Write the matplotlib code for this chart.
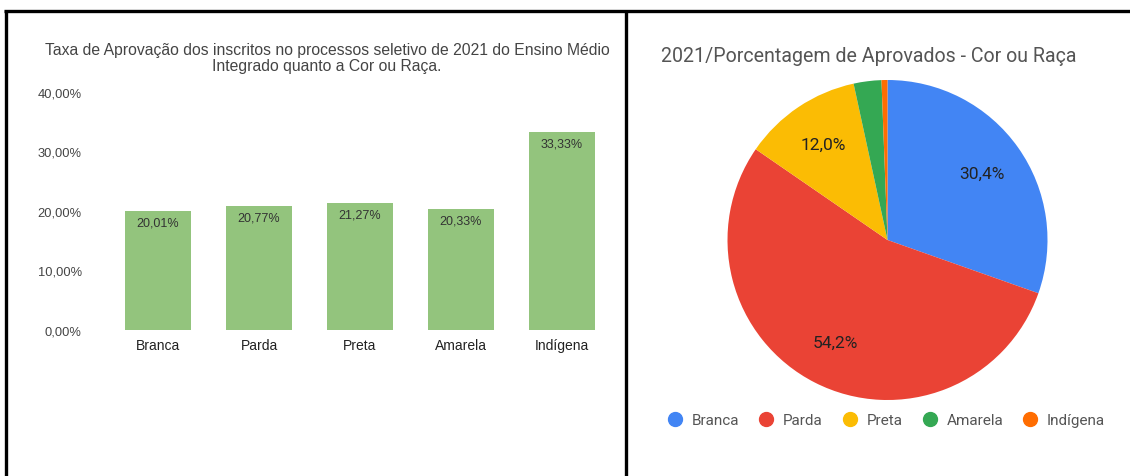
import matplotlib
matplotlib.use("Agg")
import matplotlib.pyplot as plt
from matplotlib.lines import Line2D

# --- data ---
bar_categories = ["Branca", "Parda", "Preta", "Amarela", "Indígena"]
bar_values = [20.01, 20.77, 21.27, 20.33, 33.33]
y_ticks = [0, 10, 20, 30, 40]

pie_labels = ["Branca", "Parda", "Preta", "Amarela", "Indígena"]
pie_values = [30.4, 54.2, 12.0, 2.8, 0.6]
pie_colors = ["#4285f4", "#ea4335", "#fbbc04", "#34a853", "#ff6d01"]

W, H = 1130, 477


def pct_br(v, decimals=2):
    return f"{v:.{decimals}f}".replace(".", ",") + "%"


fig = plt.figure(figsize=(W / 100, H / 100), dpi=100)


def px_box(left, top, right, bottom):
    return [left / W, 1 - bottom / H, (right - left) / W, (bottom - top) / H]


# --- left: bar chart ---
ax = fig.add_axes(px_box(107.5, 93, 612.5, 331))
x = range(len(bar_categories))
bars = ax.bar(x, bar_values, width=0.65, color="#93c47d", zorder=2)
for b, v in zip(bars, bar_values):
    ax.annotate(pct_br(v), (b.get_x() + b.get_width() / 2, v),
                xytext=(0, -4), textcoords="offset points",
                ha="center", va="top", fontsize=9, color="#333333",
                family="Liberation Sans")
ax.set_xlim(-0.5, len(bar_categories) - 0.5)
ax.set_ylim(0, 40)
ax.set_yticks(y_ticks)
ax.set_yticklabels([pct_br(t) for t in y_ticks], family="Liberation Sans",
                   fontsize=9.3, color="#444444")
ax.set_xticks(list(x))
ax.set_xticklabels(bar_categories, family="Liberation Sans", fontsize=10,
                   color="#222222")
ax.tick_params(length=0, axis="y", pad=18.5)
ax.tick_params(length=0, axis="x", pad=6)
for s in ax.spines.values():
    s.set_visible(False)

fig.text(327 / W, 1 - 58.5 / H,
         "Taxa de Aprovação dos inscritos no processos seletivo de 2021 do Ensino Médio\n"
         "Integrado quanto a Cor ou Raça.",
         ha="center", va="center", fontsize=11.3, color="#444444",
         family="Liberation Sans", linespacing=1.0)

# --- right: pie chart ---
pax = fig.add_axes(px_box(727.5, 81, 1047.5, 401))


def autopct(p):
    return pct_br(p, 1) if p >= 5 else ""


wedges, texts, autotexts = pax.pie(
    pie_values, colors=pie_colors, startangle=90, counterclock=False,
    autopct=autopct, pctdistance=0.72, radius=1,
    textprops=dict(fontsize=12.5, color="#222222", family="Roboto"))
pax.set_xlim(-1, 1)
pax.set_ylim(-1, 1)
pax.set_aspect("equal")

fig.text(661 / W, 1 - 57 / H, "2021/Porcentagem de Aprovados - Cor ou Raça",
         ha="left", va="center", fontsize=14.1, color="#555555", family="Roboto")

handles = [Line2D([], [], marker="o", linestyle="none", markersize=10,
                  markerfacecolor=c, markeredgecolor=c) for c in pie_colors]
fig.legend(handles, pie_labels, loc="center", bbox_to_anchor=(887 / W, 1 - 421 / H),
           ncol=5, frameon=False, handlelength=0.8, handletextpad=0.7,
           columnspacing=1.37, prop=dict(family="Roboto", size=11),
           labelcolor="#555555")

# --- black frame lines ---
for (x0, y0, x1, y1) in [(4, 12, W, 12), (5.5, 11, 5.5, H), (626, 11, 626, H)]:
    fig.add_artist(Line2D([x0 / W, x1 / W], [1 - y0 / H, 1 - y1 / H],
                          transform=fig.transFigure, color="black", lw=2.4,
                          solid_capstyle="butt"))

fig.savefig("out.png", dpi=100)
